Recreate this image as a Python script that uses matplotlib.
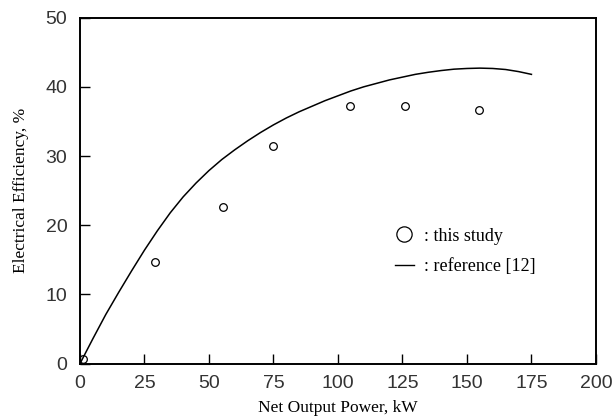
import matplotlib
matplotlib.use('Agg')
import matplotlib.pyplot as plt
from matplotlib.lines import Line2D

# measured points (this study)
study_kw = [1, 29, 55.5, 75, 104.5, 126, 154.5]
study_eff = [0.7, 14.7, 22.6, 31.4, 37.3, 37.2, 36.6]

# reference [12] curve
ref_kw = [0, 5, 10, 15, 20, 25, 30, 35, 40, 45, 50, 55, 60, 65, 70, 75, 80, 85,
          90, 95, 100, 105, 110, 115, 120, 125, 130, 135, 140, 145, 150, 155,
          160, 165, 170, 175]
ref_eff = [0, 3.6, 7.1, 10.3, 13.4, 16.4, 19.2, 21.8, 24.1, 26.1, 27.9, 29.5,
           30.9, 32.2, 33.4, 34.5, 35.5, 36.4, 37.2, 38.0, 38.7, 39.4, 40.0,
           40.5, 41.0, 41.4, 41.8, 42.1, 42.35, 42.55, 42.65, 42.7, 42.65,
           42.5, 42.2, 41.8]

xticks = [0, 25, 50, 75, 100, 125, 150, 175, 200]
yticks = [0, 10, 20, 30, 40, 50]

fig = plt.figure(figsize=(6.15, 4.19), dpi=100)
ax = fig.add_axes([0.130, 0.132, 0.839, 0.826])

ax.plot(ref_kw, ref_eff, color='black', lw=1.1)
ax.plot(study_kw, study_eff, 'o', mfc='none', mec='black', ms=5.5, mew=0.9)

ax.set_xlim(0, 200)
ax.set_ylim(0, 50)
ax.set_xticks(xticks)
ax.set_yticks(yticks)
for s in ax.spines.values():
  s.set_linewidth(1.4)
ax.tick_params(direction='in', length=7, width=1, top=False, right=False,
               labelsize=14, colors='black')
ax.tick_params(axis='y', pad=9)
ax.tick_params(axis='x', pad=8)
for lab in ax.get_xticklabels() + ax.get_yticklabels():
  lab.set_fontfamily('Liberation Sans')
  lab.set_color('#333333')

ax.set_xlabel('Net Output Power, kW', family='Liberation Serif', fontsize=12.5, labelpad=6)
ax.set_ylabel('Electrical Efficiency, %', family='Liberation Serif', fontsize=12.5, labelpad=12)

handles = [Line2D([], [], ls='none', marker='o', mfc='none', mec='black', ms=11, mew=0.9),
           Line2D([], [], color='black', lw=1.0)]
leg = ax.legend(handles, [': this study', ': reference [12]'], loc='upper left',
                bbox_to_anchor=(0.58, 0.44), frameon=False, handlelength=1.0,
                handletextpad=0.6, labelspacing=0.75,
                prop={'family': 'Liberation Serif', 'size': 13})

plt.savefig('out.png', dpi=100)
